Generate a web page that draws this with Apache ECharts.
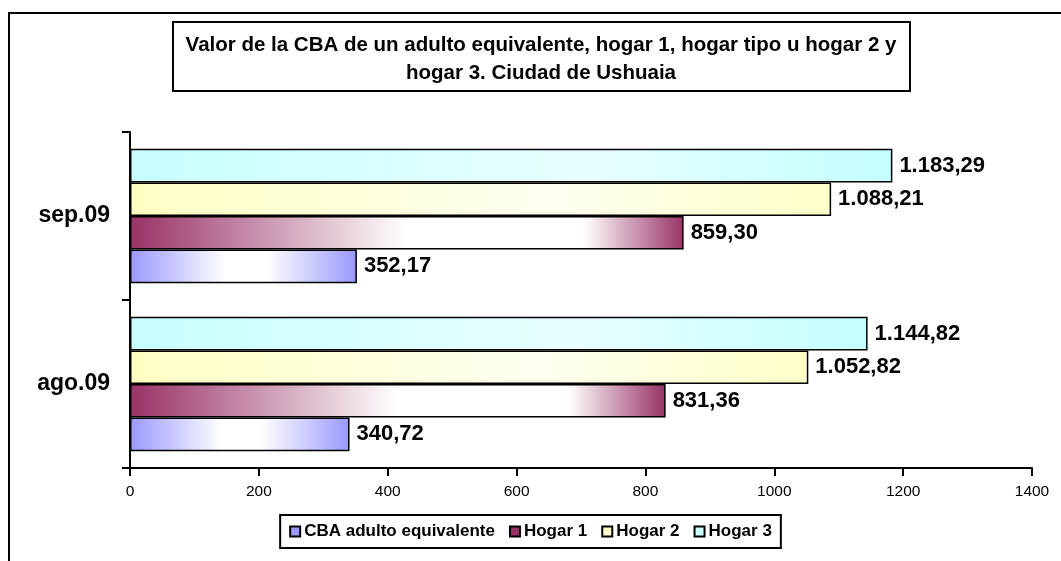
<!DOCTYPE html>
<html>
<head>
<meta charset="utf-8">
<script src="https://cdn.jsdelivr.net/npm/echarts@6/dist/echarts.min.js"></script>
<style>
  html, body { margin: 0; padding: 0; background: #fff; }
  #main { width: 1061px; height: 561px; }
</style>
</head>
<body>
<div id="main"></div>
<script>
var categories = ["ago.09", "sep.09"];
var seriesNames = ["CBA adulto equivalente", "Hogar 1", "Hogar 2", "Hogar 3"];
var cbaAdulto = [340.72, 352.17];
var hogar1 = [831.36, 859.30];
var hogar2 = [1052.82, 1088.21];
var hogar3 = [1144.82, 1183.29];
var xTicks = [0, 200, 400, 600, 800, 1000, 1200, 1400];

var font = "'Liberation Sans', Arial, sans-serif";

var dom = document.getElementById("main");
var myChart = echarts.init(dom, null, { renderer: "canvas" });

// spanish number format: 1.183,29
function fmt(v) {
  var parts = v.toFixed(2).split(".");
  var ent = parts[0].replace(/\B(?=(\d{3})+(?!\d))/g, ".");
  return ent + "," + parts[1];
}

function grad(stops) {
  return new echarts.graphic.LinearGradient(0, 0, 1, 0, stops.map(function (s) {
    return { offset: s[0], color: s[1] };
  }));
}

var colors = ["#9999ff", "#993366", "#ffffcc", "#ccffff"];
var fills = [
  grad([[0, "#9999ff"], [0.42, "#ffffff"], [0.6, "#ffffff"], [1, "#9999ff"]]),
  grad([[0, "#993366"], [0.5, "#ffffff"], [0.82, "#ffffff"], [1, "#993366"]]),
  grad([[0, "#ffffc4"], [0.6, "#fffff0"], [1, "#ffffc8"]]),
  grad([[0, "#c8ffff"], [0.6, "#e8ffff"], [1, "#c4ffff"]]),
];
var values = [cbaAdulto, hogar1, hogar2, hogar3];

var series = [];
for (var i = 0; i < seriesNames.length; i++) {
  series.push({
    name: seriesNames[i],
    type: "bar",
    data: values[i],
    barGap: "0%",
    barCategoryGap: "20%",
    color: colors[i],
    itemStyle: { color: fills[i], borderColor: "#000", borderWidth: 1.5 },
    label: {
      show: true,
      position: "right",
      distance: 7,
      color: "#000",
      fontFamily: font,
      fontWeight: "bold",
      fontSize: 22,
      formatter: function (p) { return fmt(p.value); },
    },
  });
}
// hogar 3 on top, CBA at bottom of each group
series.reverse();

var legendData = seriesNames.map(function (n, i) {
  return { name: n, itemStyle: { color: colors[i] } };
});

option = {
  animation: false,
  grid: { left: 130, right: 29, top: 132, bottom: 93 },
  graphic: [
    {
      type: "rect",
      shape: { x: 9, y: 13, width: 1070, height: 570 },
      style: { fill: "none", stroke: "#000", lineWidth: 2 },
    },
    {
      type: "rect",
      shape: { x: 173, y: 22, width: 737, height: 69 },
      style: { fill: "#fff", stroke: "#000", lineWidth: 2 },
    },
    {
      type: "text",
      x: 541,
      y: 31,
      style: {
        text: "Valor de la CBA de un adulto equivalente, hogar 1, hogar tipo u hogar 2 y\nhogar 3. Ciudad de Ushuaia",
        fill: "#000",
        font: "bold 20.5px " + font,
        textAlign: "center",
        lineHeight: 28,
      },
    },
  ],
  legend: {
    data: legendData,
    left: "center",
    top: 515,
    icon: "rect",
    itemWidth: 10,
    itemHeight: 10,
    itemGap: 14,
    padding: [8, 9, 8, 9],
    borderColor: "#000",
    borderWidth: 2,
    backgroundColor: "#fff",
    itemStyle: { borderColor: "#000", borderWidth: 2 },
    textStyle: { fontFamily: font, fontWeight: "bold", fontSize: 17, color: "#000", padding: [0, 0, 0, -1] },
  },
  xAxis: {
    type: "value",
    min: xTicks[0],
    max: xTicks[xTicks.length - 1],
    interval: 200,
    axisLine: { show: true, lineStyle: { color: "#000", width: 2 } },
    axisTick: { show: true, length: 8, lineStyle: { color: "#000", width: 2 } },
    splitLine: { show: false },
    axisLabel: { color: "#000", fontFamily: font, fontSize: 15.5, margin: 16, formatter: function (v) { return String(v); } },
  },
  yAxis: {
    type: "category",
    data: categories,
    axisLine: { show: true, lineStyle: { color: "#000", width: 2 } },
    axisTick: { show: true, length: 8, lineStyle: { color: "#000", width: 2 } },
    axisLabel: { color: "#000", fontFamily: font, fontWeight: "bold", fontSize: 23, margin: 20 },
  },
  series: series,
};

myChart.setOption(option);
</script>
</body>
</html>
